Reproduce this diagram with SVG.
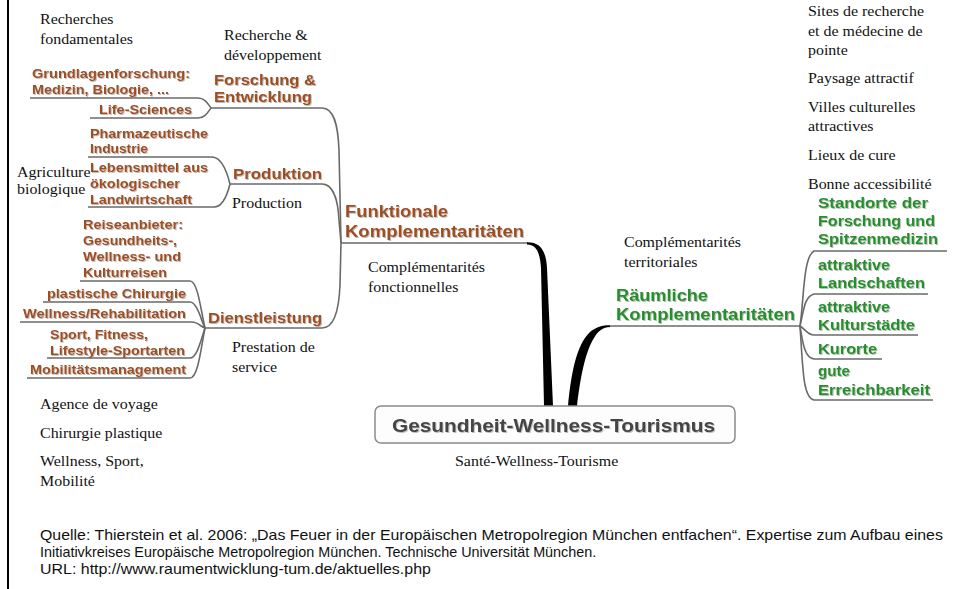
<svg xmlns="http://www.w3.org/2000/svg" width="953" height="589" viewBox="0 0 953 589">
<defs>
<filter id="sh" x="-5%" y="-20%" width="110%" height="140%">
<feDropShadow dx="1" dy="1" stdDeviation="0.7" flood-color="#888" flood-opacity="0.55"/>
</filter>
</defs>
<style>
.b{font-family:"Liberation Sans",Arial,sans-serif;font-weight:bold;fill:#a14d1e;filter:url(#sh)}
.leaf{font-size:13px}
.l2{font-size:15px}
.l1{font-size:16px}
.g{fill:#23912a}
.ann{font-family:"Liberation Serif","Times New Roman",serif;font-size:14px;fill:#111}
.src{font-family:"Liberation Sans",Arial,sans-serif;font-size:14px;fill:#111}
.ln{fill:none;stroke:#6a6a6a;stroke-width:1.6}
.thick{fill:#000}
</style>
<rect width="953" height="589" fill="#fff"/>
<rect x="7" y="0" width="2" height="589" fill="#000"/>

<g id="connectors">
<path class="ln" d="M30,98 H198 C205,98 208,104 211,108"/>
<path class="ln" d="M90,118 H198 C205,118 208,112 211,108"/>
<path class="ln" d="M88,157 H212 C222,157 227,172 230,184"/>
<path class="ln" d="M88,207 H214 C222,207 227,196 230,184"/>
<path class="ln" d="M80,281 H190 C198,281 201,312 205,328"/>
<path class="ln" d="M43,302 H190 C197,302 201,320 205,328"/>
<path class="ln" d="M20,322 H192 C198,322 201,327 205,328"/>
<path class="ln" d="M47,358 H190 C197,358 201,340 205,328"/>
<path class="ln" d="M27,378 H190 C198,378 201,348 205,328"/>
<path class="ln" d="M211,108 H322 C334,108 338,125 339,150 L341,243"/>
<path class="ln" d="M230,184 H322 C333,184 338,200 339,220 L341,243"/>
<path class="ln" d="M205,328 H322 C334,328 339,310 340,285 L341,243"/>
<path class="ln" d="M341,243 H528"/>
<path class="ln" d="M610,326 H800"/>
<path class="ln" d="M800,326 C804,300 803,257 814,251 H947"/>
<path class="ln" d="M800,326 C804,310 804,297 814,294 H928"/>
<path class="ln" d="M800,326 C806,330 808,335 814,335 H918"/>
<path class="ln" d="M800,326 C803,345 805,358 814,359 H882"/>
<path class="ln" d="M800,326 C803,370 803,398 814,400 H933"/>
<path class="thick" d="M527,242.2 C540,242 546,250 547,268 L553,406 L544,406 L541,268 C540,252 536,244.6 527,244.6 Z"/>
<path class="thick" d="M568,406 C571,375 576,345 590,332 C596,327 602,325.2 610,325.2 L610,327 C603,327 598,331 594,338 C585,352 580,380 577,406 Z"/>
</g>

<g id="node-center">
<rect x="375" y="406" width="360" height="37" rx="6" fill="#fdfdfd" stroke="#8a8a8a" stroke-width="1.5"/>
<text class="b" x="392" y="432" textLength="323" lengthAdjust="spacingAndGlyphs" style="font-size:18.5px;fill:#454545">Gesundheit-Wellness-Tourismus</text>
</g>

<g id="node-funktionale">
<text class="b l1" x="345" y="217" textLength="103" lengthAdjust="spacingAndGlyphs">Funktionale</text>
<text class="b l1" x="345" y="237" textLength="179" lengthAdjust="spacingAndGlyphs">Komplementaritäten</text>
</g>

<g id="node-forschung">
<text class="b l2" x="214" y="85" textLength="102" lengthAdjust="spacingAndGlyphs">Forschung &amp;</text>
<text class="b l2" x="214" y="102" textLength="98" lengthAdjust="spacingAndGlyphs">Entwicklung</text>
</g>
<g id="node-grundlagen">
<text class="b leaf" x="32" y="78" textLength="158" lengthAdjust="spacingAndGlyphs">Grundlagenforschung:</text>
<text class="b leaf" x="32" y="94" textLength="137" lengthAdjust="spacingAndGlyphs">Medizin, Biologie, ...</text>
</g>
<g id="node-lifesciences">
<text class="b leaf" x="99" y="114" textLength="93" lengthAdjust="spacingAndGlyphs">Life-Sciences</text>
</g>

<g id="node-produktion">
<text class="b l2" x="233" y="179" textLength="89" lengthAdjust="spacingAndGlyphs">Produktion</text>
</g>
<g id="node-pharma">
<text class="b leaf" x="90" y="138" textLength="118" lengthAdjust="spacingAndGlyphs">Pharmazeutische</text>
<text class="b leaf" x="90" y="153" textLength="58" lengthAdjust="spacingAndGlyphs">Industrie</text>
</g>
<g id="node-lebensmittel">
<text class="b leaf" x="90" y="172" textLength="118" lengthAdjust="spacingAndGlyphs">Lebensmittel aus</text>
<text class="b leaf" x="90" y="188" textLength="90" lengthAdjust="spacingAndGlyphs">ökologischer</text>
<text class="b leaf" x="90" y="204" textLength="102" lengthAdjust="spacingAndGlyphs">Landwirtschaft</text>
</g>

<g id="node-dienstleistung">
<text class="b l2" x="208" y="323" textLength="114" lengthAdjust="spacingAndGlyphs">Dienstleistung</text>
</g>
<g id="node-reise">
<text class="b leaf" x="83" y="229" textLength="100" lengthAdjust="spacingAndGlyphs">Reiseanbieter:</text>
<text class="b leaf" x="83" y="245" textLength="94" lengthAdjust="spacingAndGlyphs">Gesundheits-,</text>
<text class="b leaf" x="83" y="261" textLength="98" lengthAdjust="spacingAndGlyphs">Wellness- und</text>
<text class="b leaf" x="83" y="277" textLength="84" lengthAdjust="spacingAndGlyphs">Kulturreisen</text>
</g>
<g id="node-chirurgie">
<text class="b leaf" x="47" y="298" textLength="139" lengthAdjust="spacingAndGlyphs">plastische Chirurgie</text>
</g>
<g id="node-wellness">
<text class="b leaf" x="23" y="318" textLength="163" lengthAdjust="spacingAndGlyphs">Wellness/Rehabilitation</text>
</g>
<g id="node-sport">
<text class="b leaf" x="50" y="339" textLength="98" lengthAdjust="spacingAndGlyphs">Sport, Fitness,</text>
<text class="b leaf" x="50" y="355" textLength="135" lengthAdjust="spacingAndGlyphs">Lifestyle-Sportarten</text>
</g>
<g id="node-mobilitaet">
<text class="b leaf" x="30" y="374" textLength="156" lengthAdjust="spacingAndGlyphs">Mobilitätsmanagement</text>
</g>

<g id="node-raeumliche">
<text class="b l1 g" x="616" y="301" textLength="92" lengthAdjust="spacingAndGlyphs">Räumliche</text>
<text class="b l1 g" x="616" y="320" textLength="179" lengthAdjust="spacingAndGlyphs">Komplementaritäten</text>
</g>
<g id="node-standorte">
<text class="b l2 g" x="818" y="208" textLength="110" lengthAdjust="spacingAndGlyphs">Standorte der</text>
<text class="b l2 g" x="818" y="226" textLength="117" lengthAdjust="spacingAndGlyphs">Forschung und</text>
<text class="b l2 g" x="818" y="244" textLength="120" lengthAdjust="spacingAndGlyphs">Spitzenmedizin</text>
</g>
<g id="node-landschaften">
<text class="b l2 g" x="818" y="270" textLength="72" lengthAdjust="spacingAndGlyphs">attraktive</text>
<text class="b l2 g" x="818" y="288" textLength="107" lengthAdjust="spacingAndGlyphs">Landschaften</text>
</g>
<g id="node-kulturstaedte">
<text class="b l2 g" x="818" y="312" textLength="72" lengthAdjust="spacingAndGlyphs">attraktive</text>
<text class="b l2 g" x="818" y="330" textLength="97" lengthAdjust="spacingAndGlyphs">Kulturstädte</text>
</g>
<g id="node-kurorte">
<text class="b l2 g" x="818" y="354" textLength="59" lengthAdjust="spacingAndGlyphs">Kurorte</text>
</g>
<g id="node-erreichbarkeit">
<text class="b l2 g" x="818" y="376" textLength="32" lengthAdjust="spacingAndGlyphs">gute</text>
<text class="b l2 g" x="818" y="395" textLength="112" lengthAdjust="spacingAndGlyphs">Erreichbarkeit</text>
</g>

<g id="annotations" transform="scale(1.14,1)">
<text class="ann" x="35.09" y="24">Recherches</text>
<text class="ann" x="35.09" y="44">fondamentales</text>
<text class="ann" x="196.49" y="40">Recherche &amp;</text>
<text class="ann" x="196.49" y="60">développement</text>
<text class="ann" x="14.91" y="177">Agriculture</text>
<text class="ann" x="14.91" y="194">biologique</text>
<text class="ann" x="203.51" y="208">Production</text>
<text class="ann" x="322.81" y="272">Complémentarités</text>
<text class="ann" x="322.81" y="292">fonctionnelles</text>
<text class="ann" x="203.51" y="352">Prestation de</text>
<text class="ann" x="203.51" y="372">service</text>
<text class="ann" x="35.09" y="409">Agence de voyage</text>
<text class="ann" x="35.09" y="438">Chirurgie plastique</text>
<text class="ann" x="35.09" y="466">Wellness, Sport,</text>
<text class="ann" x="35.09" y="486">Mobilité</text>
<text class="ann" x="399.12" y="466">Santé-Wellness-Tourisme</text>
<text class="ann" x="547.37" y="247">Complémentarités</text>
<text class="ann" x="547.37" y="267">territoriales</text>
<text class="ann" x="708.77" y="16">Sites de recherche</text>
<text class="ann" x="708.77" y="36">et de médecine de</text>
<text class="ann" x="708.77" y="55">pointe</text>
<text class="ann" x="708.77" y="83">Paysage attractif</text>
<text class="ann" x="708.77" y="112">Villes culturelles</text>
<text class="ann" x="708.77" y="131">attractives</text>
<text class="ann" x="708.77" y="160">Lieux de cure</text>
<text class="ann" x="708.77" y="189">Bonne accessibilité</text>
</g>

<g id="source" transform="scale(1.14,1)">
<text class="src" x="35.09" y="540" textLength="792" lengthAdjust="spacingAndGlyphs">Quelle: Thierstein et al. 2006: „Das Feuer in der Europäischen Metropolregion München entfachen“. Expertise zum Aufbau eines</text>
<text class="src" x="35.09" y="557" textLength="488" lengthAdjust="spacingAndGlyphs">Initiativkreises Europäische Metropolregion München. Technische Universität München.</text>
<text class="src" x="35.09" y="574">URL: http://www.raumentwicklung-tum.de/aktuelles.php</text>
</g>
</svg>
